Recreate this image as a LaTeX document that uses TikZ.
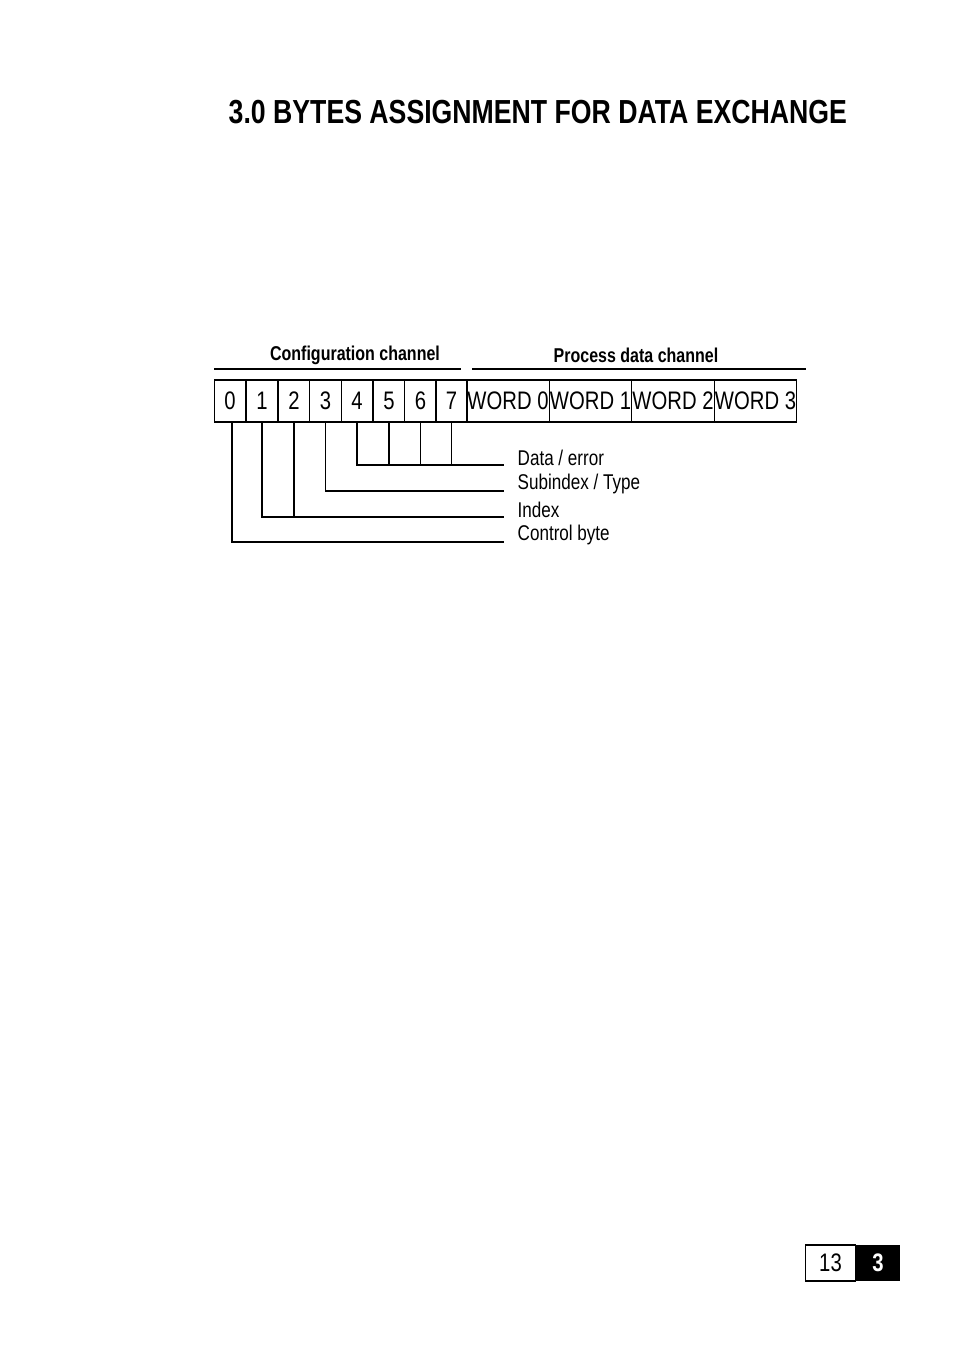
\documentclass[tikz,border=0pt]{standalone}
\usepackage{fontspec}
\setmainfont{Liberation Sans}[FakeStretch=0.8]
\usetikzlibrary{positioning}
\tikzset{
  bytebox/.style={draw, thick, minimum height=31.5pt, inner sep=0pt, font=\fontsize{19}{20}\selectfont},
  chanlabel/.style={font=\bfseries\fontsize{15}{16}\selectfont},
  leader/.style={line width=0.8pt},
  leadtext/.style={anchor=west, font=\fontsize{16}{17}\selectfont}
}
\begin{document}
\begin{tikzpicture}[x=0.75pt, y=-0.75pt]
  \useasboundingbox (0,0) rectangle (954,1352);
  \node[anchor=west, font=\bfseries\fontsize{25}{26}\selectfont] (title) at (224,112) {3.0 BYTES ASSIGNMENT FOR DATA EXCHANGE};
  % channel headers
  \node[chanlabel] (cfg) at (355,355) {Configuration channel};
  \node[chanlabel] (proc) at (636,355) {Process data channel};
  \coordinate (cl) at (214,369); \coordinate (cr) at (461,369);
  \coordinate (pl) at (472,369); \coordinate (pr) at (806,369);
  \draw[leader] (cl) -- (cr);
  \draw[leader] (pl) -- (pr);
  % byte boxes
  \foreach \i/\x in {0/230,1/262,2/294,3/325.5,4/357,5/389,6/420.5,7/451.5}
    \node[bytebox, minimum width=23.5pt] (b\i) at (\x,401) {\i};
  \foreach \i/\x in {0/508,1/590.5,2/673,3/755.5}
    \node[bytebox, minimum width=62pt] (w\i) at (\x,401) {WORD \i};
  % leaders
  \coordinate (e0) at (504,542); \coordinate (e1) at (504,517);
  \coordinate (e3) at (504,491); \coordinate (e4) at (504,465);
  \draw[leader] (b0.south -| 232,0) |- (e0);
  \draw[leader] (b1.south) |- (e1);
  \draw[leader] (b2.south) -- (b2.south |- e1);
  \draw[leader] (b3.south) |- (e3);
  \draw[leader] (b4.south) |- (e4);
  \foreach \i in {5,6,7}
    \draw[leader] (b\i.south) -- (b\i.south |- e4);
  \node[leadtext] (t4) at (513,458) {Data / error};
  \node[leadtext] (t3) at (513,484) {Subindex / Type};
  \node[leadtext] (t1) at (513,510) {Index};
  \node[leadtext] (t0) at (513,535) {Control byte};
  % page number
  \node[draw, thick, minimum width=38pt, minimum height=27pt, font=\fontsize{19}{20}\selectfont] (pg) at (830.5,1263) {13};
  \node[fill=black, text=white, minimum width=33pt, minimum height=27pt, font=\bfseries\fontsize{19}{20}\selectfont] (ch) at (878,1263) {3};
\end{tikzpicture}
\end{document}
